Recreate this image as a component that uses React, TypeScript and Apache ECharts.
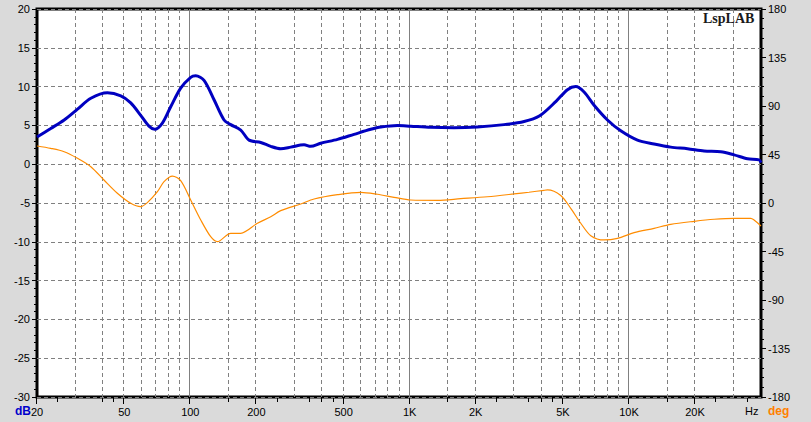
import React, { useEffect, useRef } from "react";
import * as echarts from "echarts";

// Magnitude response (dB, left axis)
const magFreq = [20, 23.1, 26.6, 30.6, 35.2, 41.9, 48.2, 53.5, 59.4, 64.8, 68.8, 74.6, 81.4, 90.4, 100.4, 105.8, 115.5, 128.3, 142.5, 152.9, 169.8, 185.3, 209.5, 232.7, 258.4, 287, 330, 354, 393, 469, 558, 665, 739, 880, 1012, 1248, 1594, 2038, 2696, 3326, 3900, 4650, 5244, 5721, 6243, 6934, 7980, 9175, 10936, 13020, 15514, 18490, 22006, 26220, 30160, 34712, 39210, 40000];
const magDb = [3.5, 4.6, 5.7, 7.1, 8.5, 9.2, 8.8, 7.9, 6.3, 4.9, 4.5, 5.3, 7.4, 9.8, 11.2, 11.4, 10.8, 8.3, 5.7, 5.1, 4.4, 3.1, 2.8, 2.3, 2.0, 2.2, 2.5, 2.3, 2.7, 3.2, 3.85, 4.5, 4.8, 5.0, 4.9, 4.75, 4.7, 4.8, 5.1, 5.5, 6.2, 8.1, 9.6, 10.0, 9.3, 7.6, 5.7, 4.3, 3.1, 2.6, 2.2, 2.0, 1.7, 1.6, 1.2, 0.7, 0.55, 0.2];

// Phase response (deg, right axis)
const phaseFreq = [20, 23.1, 26.6, 30.6, 35.2, 40.4, 46.5, 53.5, 59.4, 63.7, 70.8, 75.9, 82.9, 90.4, 100.4, 111.6, 123.9, 132.9, 152.9, 169.8, 202.3, 232.7, 258.4, 318.8, 366.6, 469, 598.8, 713, 849, 1012, 1339, 1710, 2264, 2994, 3500, 4102, 4250, 4887, 5428, 6030, 6698, 7702, 8866, 10554, 13020, 15514, 19812, 24440, 30160, 35920, 37180, 40000];
const phaseDeg = [52.9, 50.7, 47.6, 41.5, 33.7, 21.3, 9.0, -0.3, -3.4, 0.3, 10.5, 19.8, 25.0, 20.7, 2.8, -15.8, -31.3, -35.9, -28.1, -28.1, -18.8, -12.7, -7.1, -0.9, 3.7, 7.7, 9.9, 8.1, 5.3, 2.8, 2.5, 4.0, 5.8, 8.4, 10.0, 11.8, 12.1, 7.0, -5.0, -18.8, -30.3, -34.3, -32.8, -27.5, -23.5, -19.8, -17.0, -15.1, -14.2, -14.2, -15.8, -21.3];

// Frequency axis
const xLabelFreqs = [20, 50, 100, 200, 500, 1000, 2000, 5000, 10000, 20000];
const xLabelTexts = ["20", "50", "100", "200", "500", "1K", "2K", "5K", "10K", "20K"];
const xMinorTickFreqs = [25, 40, 45, 150, 250, 350, 400, 450, 1500, 2500, 3500, 4000, 4500, 15000, 25000, 35000];
const dashedGridFreqs = [30, 40, 50, 60, 70, 80, 90, 150, 200, 300, 400, 500, 600, 700, 800, 900, 1500, 2000, 3000, 4000, 5000, 6000, 7000, 8000, 9000, 15000, 20000, 30000];
const solidGridFreqs = [100, 1000, 10000];

const X_MIN = 20;
const X_MAX = 40000;
const DB_MIN = -30;
const DB_MAX = 20;
const FONT = '11px "Liberation Sans", Arial, sans-serif';

export default function App() {
  const ref = useRef<HTMLDivElement>(null);
  useEffect(() => {
    if (!ref.current) return;
    const chart = echarts.init(ref.current, undefined, { renderer: "svg" });

    const vLine = (dashed: boolean) => (params: any, api: any) => {
      const f = api.value(0);
      const p1 = api.coord([f, DB_MAX]);
      const p2 = api.coord([f, DB_MIN]);
      return {
        type: "line",
        shape: { x1: Math.round(p1[0]) - 0.5, y1: p1[1], x2: Math.round(p1[0]) - 0.5, y2: p2[1] },
        style: { stroke: "#808080", lineWidth: 1, lineDash: dashed ? [4, 3] : null },
        silent: true,
      };
    };
    const xTick = (len: number) => (params: any, api: any) => {
      const f = api.value(0);
      const p = api.coord([f, DB_MIN]);
      const x = Math.round(p[0]) - 0.5;
      return {
        type: "line",
        shape: { x1: x, y1: p[1] + 1, x2: x, y2: p[1] + 1 + len },
        style: { stroke: "#000", lineWidth: 1 },
        silent: true,
      };
    };

    chart.setOption({
      animation: false,
      backgroundColor: "#dadada",
      grid: {
        left: 37,
        right: 50,
        top: 9,
        bottom: 25,
        show: true,
        backgroundColor: "#ffffff",
        borderColor: "#000000",
        borderWidth: 3,
        z: 0,
      },
      xAxis: {
        type: "log",
        logBase: 10,
        min: X_MIN,
        max: X_MAX,
        axisLine: { show: false },
        axisTick: { show: false },
        axisLabel: { show: false },
        splitLine: { show: false },
        minorTick: { show: false },
      },
      yAxis: [
        {
          type: "value",
          min: DB_MIN,
          max: DB_MAX,
          interval: 5,
          position: "left",
          axisLine: { show: false },
          axisTick: { show: true, inside: false, length: 5, lineStyle: { color: "#000" } },
          minorTick: { show: true, splitNumber: 5, length: 3, lineStyle: { color: "#000" } },
          axisLabel: { color: "#000", fontSize: 11, fontFamily: '"Liberation Sans", Arial, sans-serif', margin: 7 },
          splitLine: { show: true, lineStyle: { color: "#808080", type: [4, 3], width: 1 } },
        },
        {
          type: "value",
          min: -180,
          max: 180,
          interval: 45,
          position: "right",
          axisLine: { show: false },
          axisTick: { show: true, inside: false, length: 5, lineStyle: { color: "#000" } },
          minorTick: { show: true, splitNumber: 5, length: 3, lineStyle: { color: "#000" } },
          axisLabel: { color: "#000", fontSize: 11, fontFamily: '"Liberation Sans", Arial, sans-serif', margin: 7 },
          splitLine: { show: false },
        },
      ],
      series: [
        {
          type: "custom",
          coordinateSystem: "cartesian2d",
          renderItem: vLine(true),
          data: dashedGridFreqs.map((f) => [f, 0]),
          z: 1,
          silent: true,
        },
        {
          type: "custom",
          coordinateSystem: "cartesian2d",
          renderItem: vLine(false),
          data: solidGridFreqs.map((f) => [f, 0]),
          z: 1,
          silent: true,
        },
        {
          type: "custom",
          coordinateSystem: "cartesian2d",
          renderItem: xTick(6),
          data: xLabelFreqs.map((f) => [f, 0]),
          z: 5,
          silent: true,
        },
        {
          type: "custom",
          coordinateSystem: "cartesian2d",
          renderItem: xTick(4),
          data: xMinorTickFreqs.map((f) => [f, 0]),
          z: 5,
          silent: true,
        },
        {
          type: "custom",
          coordinateSystem: "cartesian2d",
          renderItem: (params: any, api: any) => {
            const f = api.value(0);
            const p = api.coord([f, DB_MIN]);
            return {
              type: "text",
              x: p[0],
              y: p[1] + 15,
              style: {
                text: xLabelTexts[params.dataIndex],
                align: "center",
                verticalAlign: "middle",
                fill: "#000",
                font: FONT,
              },
              silent: true,
            };
          },
          data: xLabelFreqs.map((f) => [f, 0]),
          z: 5,
          silent: true,
        },
        {
          name: "Phase",
          type: "line",
          yAxisIndex: 1,
          data: phaseFreq.map((f, i) => [f, phaseDeg[i]]),
          showSymbol: false,
          smooth: 0.3,
          lineStyle: { color: "#ff8c00", width: 1.2 },
          z: 3,
        },
        {
          name: "Magnitude",
          type: "line",
          yAxisIndex: 0,
          data: magFreq.map((f, i) => [f, magDb[i]]),
          showSymbol: false,
          smooth: 0.3,
          lineStyle: { color: "#0000c0", width: 3 },
          z: 4,
        },
      ],
      graphic: [
        { type: "text", left: 15, top: 405, style: { text: "dB", fill: "#0000cc", font: 'bold 12px "Liberation Sans", Arial, sans-serif' } },
        { type: "text", left: 768, top: 405, style: { text: "deg", fill: "#ff8000", font: 'bold 12px "Liberation Sans", Arial, sans-serif' } },
        { type: "text", left: 745, top: 405, style: { text: "Hz", fill: "#000", font: FONT } },
        {
          type: "text",
          left: 703,
          top: 11,
          z: 11,
          style: {
            text: "LspLAB",
            fill: "#1a1a1a",
            font: 'bold 14px "Liberation Serif", "DejaVu Serif", serif',
            shadowColor: "rgba(0,0,0,0.4)",
            shadowOffsetX: 2,
            shadowOffsetY: 2,
            shadowBlur: 1,
          },
        },
      ],
    });

    return () => chart.dispose();
  }, []);

  return (
    <div
      ref={ref}
      style={{ position: "absolute", left: 0, top: 0, width: 811, height: 422 }}
    />
  );
}
